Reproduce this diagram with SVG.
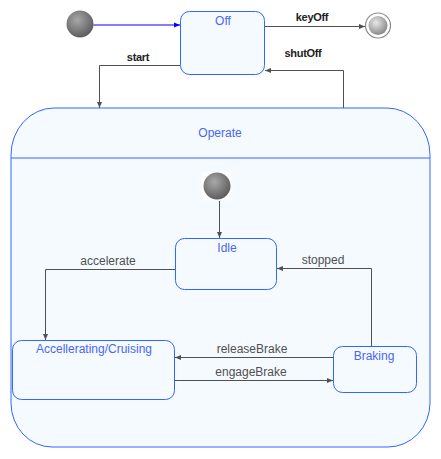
<svg xmlns="http://www.w3.org/2000/svg" width="441" height="459" viewBox="0 0 441 459">
<defs>
<radialGradient id="gInit" cx="0.4" cy="0.35" r="0.65">
<stop offset="0" stop-color="#a8a8a8"/>
<stop offset="1" stop-color="#5e5e5e"/>
</radialGradient>
<radialGradient id="gFinal" cx="0.4" cy="0.35" r="0.65">
<stop offset="0" stop-color="#e8e8e8"/>
<stop offset="1" stop-color="#8a8a8a"/>
</radialGradient>
<marker id="arr" viewBox="0 0 6 6" refX="6" refY="3" markerWidth="6" markerHeight="6" markerUnits="userSpaceOnUse" orient="auto">
<path d="M0,0.5 L6,3 L0,5.5 Z" fill="#505050"/>
</marker>
<marker id="arrB" viewBox="0 0 6 6" refX="6" refY="3" markerWidth="6" markerHeight="6" markerUnits="userSpaceOnUse" orient="auto">
<path d="M0,0.5 L6,3 L0,5.5 Z" fill="#0000ff"/>
</marker>
</defs>
<style>
.state{fill:#f5faff;stroke:#3366ff;stroke-width:1}
.sname{font-family:"Liberation Sans",Arial,sans-serif;font-size:12px;fill:#4c66f2;text-anchor:middle}
.conn{fill:none;stroke:#505050;stroke-width:1}
.lbl{font-family:"Liberation Sans",Arial,sans-serif;font-size:12px;fill:#505050;text-anchor:middle}
.blbl{font-family:"Liberation Sans",Arial,sans-serif;font-size:11px;font-weight:bold;fill:#222;text-anchor:middle;letter-spacing:-0.3px}
</style>
<rect width="441" height="459" fill="#ffffff"/>

<g id="operate">
<path class="state" d="M54,108 L387,108 A43,47 0 0 1 430,155 L430,403 A42,44 0 0 1 388,447 L52,447 A41,44 0 0 1 11,403 L11,155 A43,47 0 0 1 54,108 Z"/>
<line x1="11" y1="158" x2="430" y2="158" stroke="#3366ff" stroke-width="1"/>
<text class="sname" x="220" y="137">Operate</text>
</g>

<g id="init-top">
<circle cx="80" cy="24" r="13.5" fill="url(#gInit)"/>
</g>

<g id="off">
<rect class="state" x="180.5" y="11.5" width="84" height="63" rx="9"/>
<text class="sname" x="223" y="25">Off</text>
</g>

<g id="final">
<circle cx="378" cy="25.5" r="12.5" fill="#ffffff" stroke="#8a8a8a" stroke-width="1.2"/>
<circle cx="378" cy="25.5" r="9.5" fill="url(#gFinal)"/>
</g>

<g id="init-inner">
<rect x="202" y="172" width="29" height="28" fill="#ffffff"/>
<circle cx="217" cy="186" r="13.5" fill="url(#gInit)"/>
</g>

<g id="idle">
<rect class="state" x="175.5" y="238.5" width="101" height="51" rx="9"/>
<text class="sname" x="227" y="252">Idle</text>
</g>

<g id="accel">
<rect class="state" x="12.5" y="340.5" width="162" height="59" rx="9"/>
<text class="sname" x="94" y="353">Accellerating/Cruising</text>
</g>

<g id="braking">
<rect class="state" x="333.5" y="346.5" width="83" height="46" rx="9"/>
<text class="sname" x="374" y="360">Braking</text>
</g>

<g id="connectors">
<line x1="93.5" y1="25" x2="180" y2="25" stroke="#0000ff" stroke-width="1" marker-end="url(#arrB)"/>
<line class="conn" x1="265" y1="26.5" x2="365" y2="26.5" marker-end="url(#arr)"/>
<polyline class="conn" points="180,65.5 99.5,65.5 99.5,108" marker-end="url(#arr)"/>
<polyline class="conn" points="343.5,108 343.5,70.5 265,70.5" marker-end="url(#arr)"/>
<line class="conn" x1="219.5" y1="201" x2="219.5" y2="238" marker-end="url(#arr)"/>
<polyline class="conn" points="175,269.5 45.5,269.5 45.5,340" marker-end="url(#arr)"/>
<polyline class="conn" points="371.5,346 371.5,268.5 277,268.5" marker-end="url(#arr)"/>
<line class="conn" x1="333" y1="357.5" x2="175" y2="357.5" marker-end="url(#arr)"/>
<line class="conn" x1="175" y1="380.5" x2="333" y2="380.5" marker-end="url(#arr)"/>
<text class="blbl" x="312" y="21">keyOff</text>
<text class="blbl" x="138" y="61">start</text>
<text class="blbl" x="303" y="57">shutOff</text>
<text class="lbl" x="108" y="265">accelerate</text>
<text class="lbl" x="323" y="264">stopped</text>
<text class="lbl" x="252" y="353">releaseBrake</text>
<text class="lbl" x="251" y="376">engageBrake</text>
</g>
</svg>
